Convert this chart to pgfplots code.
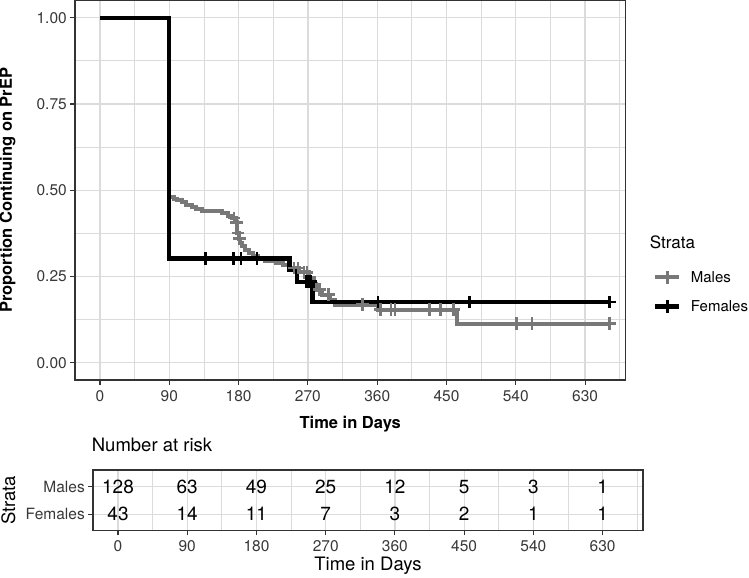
\documentclass[border=0pt]{standalone}
\usepackage{fontspec}
\setmainfont{TeX Gyre Heros}
\usepackage{pgfplots}
\pgfplotsset{compat=1.18}
\definecolor{malegray}{gray}{0.47}
\definecolor{gridgray}{gray}{0.86}
\definecolor{bordergray}{gray}{0.2}
\definecolor{ticktext}{gray}{0.22}
\newcommand{\fs}[1]{\fontsize{#1bp}{#1bp}\selectfont}
\begin{document}
\begin{tikzpicture}
\useasboundingbox (0bp,0bp) rectangle (749bp,578bp);
\pgfplotsset{
  kmbase/.style={
    scale only axis, xmin=-32.5, xmax=682.5,
    xtick={0,90,...,630}, minor xtick={45,135,...,675},
    grid=both,
    major grid style={gridgray, line width=1.2bp},
    minor grid style={gridgray, line width=0.8bp},
    axis line style={bordergray, line width=1.1bp},
    tick style={bordergray, line width=1.1bp},
    tick align=outside, major tick length=4.7bp, minor tick length=0pt,
    xtick pos=left, ytick pos=left,
    /pgf/number format/assume math mode=true,
    ticklabel style={text=ticktext},
  },
}
% ---------------- main survival panel ----------------
\begin{axis}[kmbase,
  at={(75bp,198bp)}, anchor=south west, width=550.5bp, height=379.5bp,
  ymin=-0.05, ymax=1.05,
  ytick={0,0.25,0.5,0.75,1}, minor ytick={0.125,0.375,0.625,0.875},
  yticklabel style={/pgf/number format/.cd, fixed, fixed zerofill, precision=2},
  ticklabel style={font=\fs{15.5}},
  xticklabel style={yshift=-2.5bp},
  xlabel={Time in Days},
  xlabel style={font=\bfseries\fs{16.5}, at={(axis description cs:0.5,-0.1159)}, anchor=center},
  ylabel={Proportion Continuing on PrEP},
  ylabel style={font=\bfseries\fs{16.5}, at={(axis description cs:-0.1226,0.5)}, anchor=center},
  legend style={at={(axis description cs:1.04995,0.2875)}, anchor=north west,
    draw=none, fill=none, font=\fs{15}, inner sep=0pt, row sep=16.6bp,
    nodes={inner sep=0pt},
    /tikz/every odd column/.append style={column sep=9.5bp}},
  legend cell align=left,
  legend image code/.code={\draw[mark repeat=2,mark phase=2,#1] plot coordinates {(0bp,0bp) (12bp,0bp) (24bp,0bp)};},
]
% Males
\addplot[const plot, malegray, line width=4bp, forget plot] coordinates {
(0,1) (90,0.479) (96,0.475) (100,0.471) (106,0.465) (112,0.458) (119,0.451)
(125,0.445) (132,0.441) (159,0.434) (166,0.426) (171,0.419) (175,0.407)
(178,0.376) (180,0.360) (182,0.347) (185,0.337) (188,0.327) (193,0.318)
(199,0.308) (205,0.300) (214,0.294) (228,0.289) (238,0.284) (246,0.2745)
(259,0.262) (272,0.246) (278,0.229) (281,0.212) (288,0.197) (299,0.183)
(305,0.1685) (361,0.154) (463,0.1136) (662,0.1136)};
% Females
\addplot[const plot, black, line width=4.2bp, forget plot] coordinates {
(0,1) (90,0.302) (246,0.2684) (256,0.2349) (276,0.1762) (662,0.1762)};
% censoring marks
\addplot[only marks, mark=+, mark size=6.3bp, malegray, mark options={line width=2.6bp}, forget plot] coordinates {
(174,0.419) (177,0.407) (179,0.376) (181,0.360) (252,0.2745) (257,0.2745)
(265,0.262) (269,0.262) (285,0.212) (297,0.197) (341,0.1685) (364,0.154)
(378,0.154) (383,0.154) (428,0.154) (442,0.154) (459,0.154)
(541,0.1136) (561,0.1136) (662,0.1136)};
\addplot[only marks, mark=+, mark size=6.3bp, black, mark options={line width=2.8bp}, forget plot] coordinates {
(137,0.302) (173,0.302) (183,0.302) (204,0.302) (268,0.2349) (271,0.2349)
(274,0.2349) (361,0.1762) (480,0.1762) (662,0.1762)};
\addlegendimage{malegray, line width=4bp, mark=+, mark size=6.3bp, mark options={line width=2.6bp, solid}}
\addlegendentry{Males}
\addlegendimage{black, line width=4.2bp, mark=+, mark size=6.3bp, mark options={line width=2.8bp, solid}}
\addlegendentry{Females}
\end{axis}
\node[anchor=west, font=\fs{17}, inner sep=0pt] at (649.7bp,335.7bp) {Strata};
% ---------------- number at risk table ----------------
\begin{axis}[kmbase,
  at={(93bp,47.3bp)}, anchor=south west, width=550bp, height=60.7bp,
  ymin=0.4, ymax=2.6, ytick={1,2}, yticklabels={Females,Males}, minor ytick={},
  ticklabel style={font=\fs{15.5}},
  xticklabel style={yshift=-1.5bp},
  xlabel={Time in Days},
  xlabel style={font=\fs{18.5}, at={(axis description cs:0.5,-0.5815)}, anchor=center},
  ylabel={Strata},
  ylabel style={font=\fs{18.5}, at={(axis description cs:-0.154,0.5)}, anchor=center},
  title={Number at risk},
  title style={font=\fs{18.5}, at={(axis description cs:-0.0024,1.318)}, anchor=west, yshift=0pt, inner sep=0pt},
]
\addplot[only marks, mark=none, nodes near coords, point meta=explicit symbolic,
  nodes near coords style={anchor=center, font=\fs{19}, text=black, inner sep=0pt}]
  table[meta=n] {
x y n
0 2 128
90 2 63
180 2 49
270 2 25
360 2 12
450 2 5
540 2 3
630 2 1
0 1 43
90 1 14
180 1 11
270 1 7
360 1 3
450 1 2
540 1 1
630 1 1
};
\end{axis}
\end{tikzpicture}
\end{document}
